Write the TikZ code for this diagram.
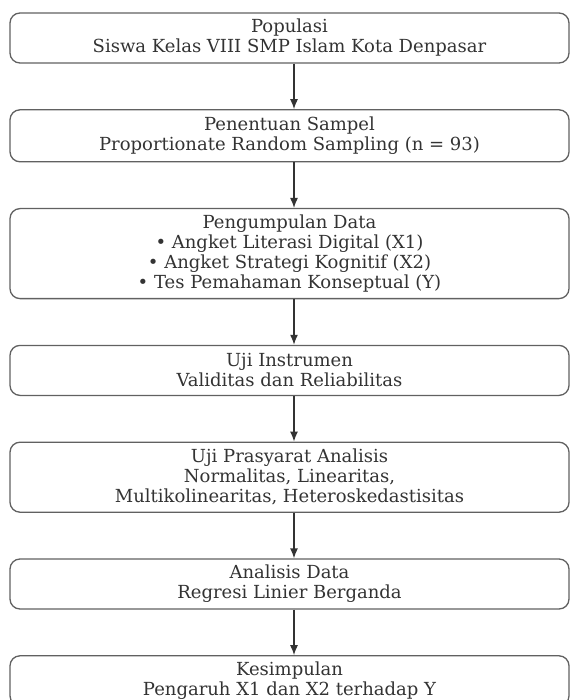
\documentclass[tikz,border=0pt]{standalone}
\usepackage{fontspec}
\setmainfont{DejaVu Serif}
\usepackage{tikz}
\usetikzlibrary{positioning}
\usetikzlibrary{arrows.meta}
\definecolor{boxgray}{rgb}{0.38,0.38,0.38}
\definecolor{txtgray}{rgb}{0.2,0.2,0.2}

\begin{document}
\begin{tikzpicture}[
    x = 1pt, y = 1pt,
    node distance = 45.5pt,
    box/.style = {draw = boxgray, line width = 1.3pt, rounded corners = 10pt,
      minimum width = 559pt, minimum height = 50pt, align = center,
      text = txtgray, font = \fontsize{18}{20}\selectfont, inner ysep = 2pt},
    arrow/.style = {-{Latex[length = 10pt, width = 8pt]}, line width = 1.3pt, draw = black!80}
    ]
    \useasboundingbox (0,0) rectangle (571,-700);
    \node[box] (pop) at (289.5,-38) {Populasi\\Siswa Kelas VIII SMP Islam Kota Denpasar};
    \node[box, below = of pop, minimum height = 52pt] (sampel) {Penentuan Sampel\\Proportionate Random Sampling (n = 93)};
    \node[box, below = of sampel, minimum height = 90pt] (data) {Pengumpulan Data\\%
        • Angket Literasi Digital (X1)\\• Angket Strategi Kognitif (X2)\\• Tes Pemahaman Konseptual (Y)};
    \node[box, below = of data] (instrumen) {Uji Instrumen\\Validitas dan Reliabilitas};
    \node[box, below = of instrumen, minimum height = 70pt] (prasyarat) {Uji Prasyarat Analisis\\%
        Normalitas, Linearitas,\\Multikolinearitas, Heteroskedastisitas};
    \node[box, below = of prasyarat] (analisis) {Analisis Data\\Regresi Linier Berganda};
    \node[box, below = of analisis] (simpul) {Kesimpulan\\Pengaruh X1 dan X2 terhadap Y};

    \foreach \a/\b in {pop/sampel, sampel/data, data/instrumen, instrumen/prasyarat,
                       prasyarat/analisis, analisis/simpul}
        \draw[arrow] ([xshift = 4.5pt]\a.south) -- ([xshift = 4.5pt]\b.north);
\end{tikzpicture}
\end{document}
